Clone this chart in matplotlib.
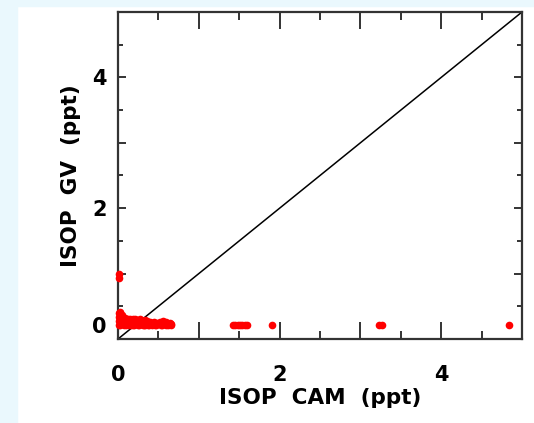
import matplotlib
matplotlib.use('Agg')
import matplotlib.pyplot as plt
import matplotlib.transforms as mtransforms
from matplotlib.patches import Rectangle
from matplotlib.ticker import MultipleLocator

# ISOP CAM vs ISOP GV (ppt)
cam = [0.01, 0.01, 0.01, 0.01, 0.02, 0.03, 0.04, 0.05, 0.06, 0.02, 0.04,
       0.07, 0.03, 0.05, 0.08, 0.09, 0.11, 0.12, 0.14, 0.15, 0.17, 0.18,
       0.20, 0.21, 0.23, 0.24, 0.26, 0.27, 0.29, 0.30, 0.32, 0.33, 0.35,
       0.36, 0.38, 0.39, 0.10, 0.13, 0.16, 0.19, 0.22, 0.25, 0.28, 0.31,
       0.34, 0.37, 0.40, 0.42, 0.44, 0.46, 0.48, 0.50, 0.52, 0.54, 0.56,
       0.58, 0.60, 0.62, 0.64, 0.66, 0.47, 0.53, 0.59, 0.65,
       1.42, 1.45, 1.48, 1.51, 1.54, 1.57, 1.60, 1.90, 3.23, 3.27, 4.84,
       0.01, 0.01]
gv = [0.22, 0.28, 0.34, 0.40, 0.38, 0.42, 0.32, 0.36, 0.26, 0.21, 0.24,
      0.30, 0.30, 0.34, 0.22, 0.32, 0.25, 0.31, 0.23, 0.30, 0.26, 0.31,
      0.22, 0.30, 0.26, 0.29, 0.22, 0.30, 0.25, 0.28, 0.22, 0.29, 0.24,
      0.27, 0.21, 0.26, 0.21, 0.22, 0.21, 0.22, 0.25, 0.21, 0.23, 0.21,
      0.22, 0.21, 0.24, 0.22, 0.26, 0.21, 0.25, 0.23, 0.26, 0.22, 0.27,
      0.23, 0.26, 0.22, 0.25, 0.23, 0.21, 0.21, 0.21, 0.21,
      0.21, 0.22, 0.21, 0.22, 0.21, 0.22, 0.21, 0.21, 0.21, 0.21, 0.21,
      0.93, 0.99]

one_to_one = [0, 5]

fig = plt.figure(figsize=(5.34, 4.23), dpi=100)
fig.patch.set_facecolor('white')
# light blue slide strips at top and left
fig.patches.append(Rectangle((0, 1 - 6 / 423), 1, 6 / 423, transform=fig.transFigure,
                             color='#eaf8fd', zorder=0))
fig.patches.append(Rectangle((0, 0), 17 / 534, 1, transform=fig.transFigure,
                             color='#eaf8fd', zorder=0))

ax = fig.add_axes([118 / 534, 84 / 423, 404 / 534, 327 / 423])
ax.plot(cam, gv, 'o', color='red', markersize=5.5, markeredgewidth=0,
        clip_on=False, zorder=3)
ax.plot(one_to_one, one_to_one, color='black', linewidth=1.1, zorder=2)

ax.set_xlim(0, 5)
ax.set_ylim(0, 5)

for s in ax.spines.values():
    s.set_linewidth(1.6)
    s.set_color('#333333')

ax.xaxis.set_major_locator(MultipleLocator(1))
ax.xaxis.set_minor_locator(MultipleLocator(0.5))
ax.yaxis.set_major_locator(MultipleLocator(1))
ax.yaxis.set_minor_locator(MultipleLocator(0.5))
ax.set_xticklabels(['', '0', '', '2', '', '4', ''])
ax.set_yticklabels(['', '0', '', '2', '', '4', ''])

ax.tick_params(axis='both', which='both', direction='in', top=True, right=True,
               color='#333333', width=1.4)
ax.tick_params(axis='x', which='major', length=12, pad=19, labelsize=15)
ax.tick_params(axis='x', which='minor', length=6)
ax.tick_params(axis='y', which='major', length=6, pad=8, labelsize=15)
ax.tick_params(axis='y', which='minor', length=3.5)
for lab in ax.get_xticklabels() + ax.get_yticklabels():
    lab.set_fontweight('bold')

# the zero on the y axis sits a little above the corner
ylabs = ax.get_yticklabels()
ylabs[1].set_transform(ylabs[1].get_transform() +
                       mtransforms.ScaledTranslation(0, 10 / 72, fig.dpi_scale_trans))

ax.set_xlabel('ISOP  CAM  (ppt)', fontsize=15.5, fontweight='bold', labelpad=2)
ax.set_ylabel('ISOP  GV  (ppt)', fontsize=15.5, fontweight='bold', labelpad=8)

fig.savefig('out.png', dpi=100)
